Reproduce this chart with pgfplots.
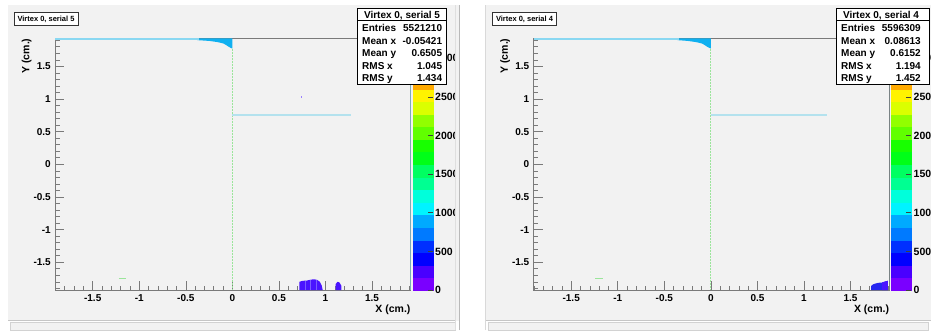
\documentclass[border=0pt]{standalone}
\usepackage{pgfplots}
\pgfplotsset{compat=1.18}
\usepackage{fontspec}
\setmainfont{Liberation Sans}
\definecolor{panel}{HTML}{F2F2F2}
\definecolor{axgray}{HTML}{7A7A7A}
\definecolor{framecyan}{HTML}{7FC6D8}
\definecolor{stripc}{HTML}{8AD8F2}
\definecolor{blobc}{HTML}{10B0F0}
\definecolor{vgreen}{HTML}{9BE59B}
\definecolor{hcyan}{HTML}{B4E2EE}
\definecolor{botv}{HTML}{4A14FF}
\definecolor{botl}{HTML}{7A5CFF}
\definecolor{botb}{HTML}{2626F0}
\definecolor{dotc}{HTML}{9A80FF}
\definecolor{cb0}{HTML}{7A00FF}
\definecolor{cb1}{HTML}{4900FF}
\definecolor{cb2}{HTML}{0000FF}
\definecolor{cb3}{HTML}{0030FF}
\definecolor{cb4}{HTML}{007AFF}
\definecolor{cb5}{HTML}{00AAFF}
\definecolor{cb6}{HTML}{00F3FF}
\definecolor{cb7}{HTML}{00FFDB}
\definecolor{cb8}{HTML}{00FF92}
\definecolor{cb9}{HTML}{00FF61}
\definecolor{cb10}{HTML}{00FF18}
\definecolor{cb11}{HTML}{18FF00}
\definecolor{cb12}{HTML}{61FF00}
\definecolor{cb13}{HTML}{92FF00}
\definecolor{cb14}{HTML}{DBFF00}
\definecolor{cb15}{HTML}{FFF300}
\definecolor{cb16}{HTML}{FFAA00}
\definecolor{cb17}{HTML}{FF7A00}
\definecolor{cb18}{HTML}{FF3000}
\definecolor{cb19}{HTML}{FF0000}
\newcommand\tickfont{\fontsize{10}{12}\selectfont\bfseries}
\newcommand\cbfont{\fontsize{10.5}{12}\selectfont\bfseries}
\newcommand\statfont{\fontsize{10}{12}\selectfont\bfseries}
\newcommand\band[3]{\addplot[fill=#1,draw=#1,line width=0.2pt] coordinates {(0,#2) (1,#2) (1,#3) (0,#3)} -- cycle;}
\newcommand\allbands{%
\band{cb0}{0}{163}\band{cb1}{163}{326}\band{cb2}{326}{489}\band{cb3}{489}{652}%
\band{cb4}{652}{815}\band{cb5}{815}{978}\band{cb6}{978}{1141}\band{cb7}{1141}{1304}%
\band{cb8}{1304}{1467}\band{cb9}{1467}{1630}\band{cb10}{1630}{1793}\band{cb11}{1793}{1956}%
\band{cb12}{1956}{2119}\band{cb13}{2119}{2282}\band{cb14}{2282}{2445}\band{cb15}{2445}{2608}%
\band{cb16}{2608}{2771}\band{cb17}{2771}{2934}\band{cb18}{2934}{3097}\band{cb19}{3097}{3260}}
\pgfplotsset{
  rootaxis/.style={anchor=south west, scale only axis, width=355.7pt, height=251.7pt,
    xmin=-1.905, xmax=1.915, ymin=-1.925, ymax=1.93,
    axis line style={draw=axgray,line width=0.7pt},
    tick style={draw=axgray,line width=0.6pt},
    tick align=inside, xtick pos=left, ytick pos=left,
    major tick length=9pt, minor tick length=4.5pt,
    xtick={-1.5,-1,-0.5,0,0.5,1,1.5}, xticklabels={-1.5,-1,-0.5,0,0.5,1,1.5},
    ytick={-1.5,-1,-0.5,0,0.5,1,1.5}, yticklabels={-1.5,-1,-0.5,0,0.5,1,1.5},
    minor xtick={-1.9,-1.8,...,1.9}, minor ytick={-1.9,-1.8,...,1.9},
    ticklabel style={font=\tickfont, inner sep=0pt},
    xticklabel style={anchor=north}, yticklabel style={anchor=east},
    xticklabel shift=4pt, yticklabel shift=4pt, clip=true},
  cbaxis/.style={anchor=south west, scale only axis, width=20pt, height=251.7pt,
    xmin=0, xmax=1, ymin=0, ymax=3260, axis line style={draw=none},
    xtick=\empty, ytick={0,500,...,3000}, yticklabels={0,500,1000,1500,2000,2500,3000},
    ytick pos=right, yticklabel pos=right, tick align=inside, major tick length=5pt,
    tick style={draw=black!75,line width=0.6pt},
    yticklabel style={anchor=west, font=\cbfont, inner sep=0pt},
    yticklabel shift=2.3pt, axis on top, clip=false}
}
\begin{document}
\begin{tikzpicture}[x=1pt,y=1pt]
\fill[white] (0,0) rectangle (931,333);
\path[use as bounding box] (0,0) rectangle (931,333);
% panels
\fill[panel] (8,12) rectangle (459,328);
\draw[gray!45] (8,12.5) -- (459,12.5);
\filldraw[fill=panel, draw=gray!35] (10,3) rectangle (455,11);
\fill[panel] (485,12) rectangle (931,328);
\draw[gray!45] (485,12.5) -- (931,12.5);
\filldraw[fill=panel, draw=gray!35] (488,3) rectangle (928,11);
\draw[gray!30] (485.5,3) -- (485.5,328);
% ---------------- left panel ----------------
\begin{axis}[rootaxis, at={(55pt,43pt)}, name=L]
\addplot[fill=blobc, draw=none] coordinates {(-0.38,1.93) (0,1.93) (0,1.773) (-0.02,1.785) (-0.04,1.80) (-0.07,1.83) (-0.1,1.852) (-0.16,1.872) (-0.25,1.89) (-0.38,1.902)} -- cycle;
\addplot[draw=stripc, line width=2pt] coordinates {(-1.905,1.912) (-0.36,1.912)};
\addplot[draw=vgreen, line width=0.8pt, dash pattern=on 2pt off 1pt] coordinates {(0,1.773) (0,-1.925)};
\addplot[draw=hcyan, line width=1.6pt] coordinates {(0,0.755) (1.27,0.755)};
\addplot[draw=framecyan, line width=0.8pt] coordinates {(1.912,-1.925) (1.912,1.93)};
\addplot[fill=botv, draw=none] coordinates {(0.72,-1.925) (0.72,-1.80) (0.75,-1.785) (0.8,-1.78) (0.85,-1.765) (0.88,-1.761) (0.91,-1.77) (0.94,-1.80) (0.96,-1.86) (0.97,-1.925)} -- cycle;
\addplot[draw=botl, line width=0.6pt] coordinates {(0.78,-1.925) (0.78,-1.79)};
\addplot[draw=botl, line width=0.6pt] coordinates {(0.84,-1.925) (0.84,-1.775)};
\addplot[draw=botl, line width=0.6pt] coordinates {(0.9,-1.925) (0.9,-1.77)};
\addplot[fill=botv, draw=none] coordinates {(1.11,-1.925) (1.11,-1.83) (1.13,-1.80) (1.15,-1.81) (1.17,-1.86) (1.17,-1.925)} -- cycle;
\addplot[only marks, mark=square*, mark size=0.4pt, color=dotc] coordinates {(0.74,1.03)};
\addplot[draw=vgreen, line width=0.8pt] coordinates {(-1.22,-1.74) (-1.14,-1.74)};
\end{axis}
\begin{axis}[cbaxis, at={(412.7pt,43pt)}]
\allbands
\end{axis}
\node[font=\fontsize{10.5}{12}\selectfont\bfseries, anchor=north east, inner sep=0pt] at ([yshift=-15pt]L.south east) {X (cm.)};
\node[font=\fontsize{10.5}{12}\selectfont\bfseries, rotate=90, anchor=south east, inner sep=0pt] at ([xshift=-23.3pt]L.north west) {Y (cm.)};
% ---------------- right panel ----------------
\begin{axis}[rootaxis, at={(533.5pt,43pt)}, name=R]
\addplot[fill=blobc, draw=none] coordinates {(-0.36,1.93) (0,1.93) (0,1.773) (-0.02,1.785) (-0.04,1.80) (-0.07,1.83) (-0.1,1.852) (-0.16,1.872) (-0.25,1.89) (-0.36,1.902)} -- cycle;
\addplot[draw=stripc, line width=2pt] coordinates {(-1.905,1.912) (-0.34,1.912)};
\addplot[draw=vgreen, line width=0.8pt, dash pattern=on 2pt off 1pt] coordinates {(0,1.773) (0,-1.925)};
\addplot[draw=hcyan, line width=1.6pt] coordinates {(0,0.755) (1.25,0.755)};
\addplot[draw=framecyan, line width=0.8pt] coordinates {(1.912,-1.925) (1.912,1.93)};
\addplot[fill=botb, draw=none] coordinates {(1.72,-1.925) (1.72,-1.865) (1.74,-1.84) (1.77,-1.825) (1.8,-1.815) (1.84,-1.81) (1.87,-1.795) (1.9,-1.785) (1.9,-1.925)} -- cycle;
\addplot[fill=botv, draw=none] coordinates {(1.84,-1.925) (1.84,-1.81) (1.87,-1.795) (1.9,-1.785) (1.9,-1.925)} -- cycle;
\addplot[draw=vgreen, line width=0.8pt] coordinates {(-1.24,-1.74) (-1.16,-1.74)};
\end{axis}
\begin{axis}[cbaxis, at={(891.2pt,43pt)}]
\allbands
\end{axis}
\node[font=\fontsize{10.5}{12}\selectfont\bfseries, anchor=north east, inner sep=0pt] at ([yshift=-15pt]R.south east) {X (cm.)};
\node[font=\fontsize{10.5}{12}\selectfont\bfseries, rotate=90, anchor=south east, inner sep=0pt] at ([xshift=-23.3pt]R.north west) {Y (cm.)};
% gap between panels (cuts the colour-bar labels)
\fill[white] (459.5,0) rectangle (485,333);
\fill[panel] (455,12.5) rectangle (459,328);
\draw[gray!25] (455.5,3) -- (455.5,328);
\draw[gray!55] (459,3) -- (459,328);
% title boxes
\filldraw[fill=white, draw=black!80, line width=0.5pt] (14,308) rectangle (78,321);
\node[anchor=base, font=\fontsize{7.5}{9}\selectfont\bfseries, inner sep=0pt] at (46,311.5) {Virtex 0, serial 5};
\filldraw[fill=white, draw=black!80, line width=0.5pt] (492.5,308) rectangle (556.5,321);
\node[anchor=base, font=\fontsize{7.5}{9}\selectfont\bfseries, inner sep=0pt] at (524.5,311.5) {Virtex 0, serial 4};
% stats boxes
\filldraw[fill=white, draw=black, line width=0.6pt] (357.3,249) rectangle (446.7,325);
\draw[line width=0.6pt] (357.3,312.5) -- (446.7,312.5);
\node[anchor=base, font=\statfont, inner sep=0pt] at (402,315) {Virtex 0, serial 5};
\begin{scope}[every node/.style={font=\statfont, inner sep=0pt}]
\node[anchor=base west] at (362,301.3) {Entries};  \node[anchor=base east] at (442.3,301.3) {5521210};
\node[anchor=base west] at (362,289) {Mean x};     \node[anchor=base east] at (442.3,289) {-0.05421};
\node[anchor=base west] at (362,277) {Mean y};     \node[anchor=base east] at (442.3,277) {0.6505};
\node[anchor=base west] at (362,264) {RMS x};      \node[anchor=base east] at (442.3,264) {1.045};
\node[anchor=base west] at (362,252) {RMS y};      \node[anchor=base east] at (442.3,252) {1.434};
\end{scope}
\filldraw[fill=white, draw=black, line width=0.6pt] (836.7,249) rectangle (929.7,325);
\draw[line width=0.6pt] (836.7,312.5) -- (929.7,312.5);
\node[anchor=base, font=\statfont, inner sep=0pt] at (881,315) {Virtex 0, serial 4};
\begin{scope}[every node/.style={font=\statfont, inner sep=0pt}]
\node[anchor=base west] at (841,301.3) {Entries};  \node[anchor=base east] at (921,301.3) {5596309};
\node[anchor=base west] at (841,289) {Mean x};     \node[anchor=base east] at (921,289) {0.08613};
\node[anchor=base west] at (841,277) {Mean y};     \node[anchor=base east] at (921,277) {0.6152};
\node[anchor=base west] at (841,264) {RMS x};      \node[anchor=base east] at (921,264) {1.194};
\node[anchor=base west] at (841,252) {RMS y};      \node[anchor=base east] at (921,252) {1.452};
\end{scope}
\end{tikzpicture}
\end{document}
